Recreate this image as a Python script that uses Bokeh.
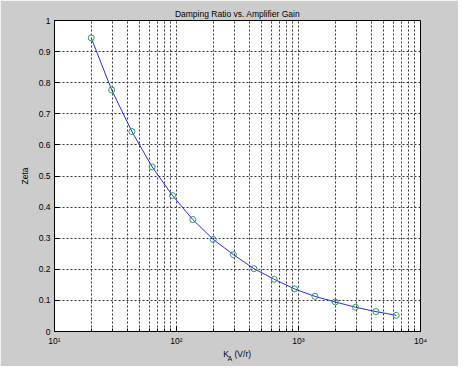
from bokeh.plotting import figure
from bokeh.models import FixedTicker, LogAxis
from bokeh.embed import file_html
from bokeh.resources import INLINE

# Data
gain_ka = [20, 29.4, 43.1, 63.2, 92.8, 136, 200, 293, 431, 632, 928, 1363, 2000, 2935, 4309, 6325]
zeta = [0.944, 0.777, 0.643, 0.529, 0.437, 0.360, 0.296, 0.247, 0.202, 0.168, 0.137, 0.113, 0.095, 0.078, 0.064, 0.052]

x_major = [10, 100, 1000, 10000]
x_labels = ["10\u00b9", "10\u00b2", "10\u00b3", "10\u2074"]
y_major = [0, 0.1, 0.2, 0.3, 0.4, 0.5, 0.6, 0.7, 0.8, 0.9, 1]
y_labels = ["0", "0.1", "0.2", "0.3", "0.4", "0.5", "0.6", "0.7", "0.8", "0.9", "1"]

FONT = "Liberation Sans"
FS = "8.5px"

p = figure(width=458, height=366, x_axis_type="log", x_range=(10, 10000), y_range=(0, 1),
           output_backend="svg", toolbar_location=None,
           title="Damping Ratio vs. Amplifier Gain",
           min_border_left=54, min_border_right=38, min_border_top=20, min_border_bottom=35)

p.border_fill_color = "#cccccc"
p.background_fill_color = "white"
p.outline_line_color = "black"
p.outline_line_width = 1

p.title.align = "center"
p.title.text_font = FONT
p.title.text_font_size = FS
p.title.text_font_style = "normal"
p.title.text_color = "black"
p.title.standoff = 3

minor = [m * 10 ** k for k in range(1, 4) for m in range(2, 10)]
p.xaxis.ticker = FixedTicker(ticks=x_major, minor_ticks=minor)
p.yaxis.ticker = FixedTicker(ticks=y_major)
p.xaxis.major_label_overrides = {float(t): l for t, l in zip(x_major, x_labels)}
p.yaxis.major_label_overrides = {float(t): l for t, l in zip(y_major, y_labels)}

for ax in (p.xaxis, p.yaxis):
    ax.axis_line_color = "black"
    ax.major_tick_line_color = "black"
    ax.minor_tick_line_color = "black"
    ax.major_tick_in = 5
    ax.major_tick_out = 0
    ax.minor_tick_in = 3
    ax.minor_tick_out = 0
    ax.major_label_text_font = FONT
    ax.major_label_text_font_size = FS
    ax.major_label_text_color = "black"
    ax.major_label_standoff = 4
p.yaxis.minor_tick_line_color = None

p.yaxis.axis_label = "Zeta"
p.yaxis.axis_label_text_font = FONT
p.yaxis.axis_label_text_font_size = FS
p.yaxis.axis_label_text_font_style = "normal"
p.yaxis.axis_label_text_color = "black"
p.yaxis.axis_label_standoff = 6

GRID = "#333333"
p.xgrid.grid_line_color = GRID
p.xgrid.grid_line_dash = "2 2"
p.xgrid.grid_line_width = 1
p.xgrid.minor_grid_line_color = GRID
p.xgrid.minor_grid_line_dash = "2 2"
p.ygrid.grid_line_color = GRID
p.ygrid.grid_line_dash = "2 2"
p.ygrid.grid_line_width = 1

p.line(gain_ka, zeta, line_color="#2a2ae6", line_width=1)
p.scatter(gain_ka, zeta, marker="circle", size=6, fill_color=None,
          line_color="#2f9a60", line_width=1)

# x-axis label "K_A (V/r)": text pieces placed as labels of bare extra axes
DEC = 122.2  # pixels per decade of the frame


def at_px(dx):
    return 10 ** (2.5 + dx / DEC)


def bare_axis(ticks, texts, size, standoff):
    ax = LogAxis(ticker=FixedTicker(ticks=ticks, minor_ticks=[]),
                 major_label_overrides={float(t): s for t, s in zip(ticks, texts)},
                 axis_line_color=None, major_tick_line_color=None, minor_tick_line_color=None,
                 major_tick_in=0, major_tick_out=0,
                 major_label_text_font=FONT, major_label_text_font_size=size,
                 major_label_text_color="black", major_label_standoff=standoff)
    p.add_layout(ax, "below")


bare_axis([at_px(-11.5), at_px(5.3)], ["K", "(V/r)"], FS, 0)
bare_axis([at_px(-7.5)], ["A"], "6.5px", -7)

open("out.html", "w").write(file_html(p, INLINE))
